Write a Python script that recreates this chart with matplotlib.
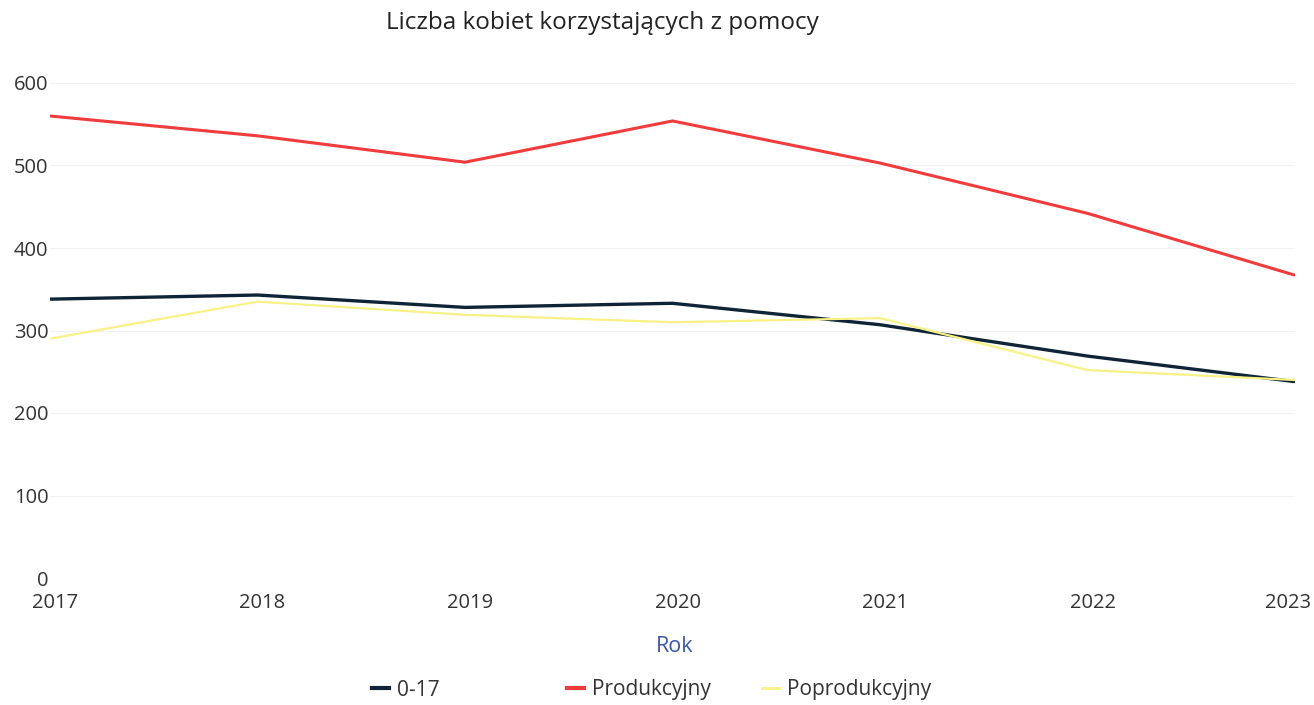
import matplotlib
matplotlib.use("Agg")
import matplotlib.pyplot as plt
from matplotlib.lines import Line2D
from matplotlib.transforms import ScaledTranslation

years = [2017, 2018, 2019, 2020, 2021, 2022, 2023]
series_names = ["0-17", "Produkcyjny", "Poprodukcyjny"]
v_0_17 = [338, 343, 328, 333, 307, 269, 238]
v_prod = [560, 536, 504, 554, 503, 442, 367]
v_poprod = [290, 335, 319, 310, 315, 252, 240]
y_ticks = [0, 100, 200, 300, 400, 500, 600]

colors = ["#0f2436", "#f03c3c", "#f8f186"]
widths = [2.4, 2.2, 1.6]

plt.rcParams['font.family'] = ['Open Sans', 'DejaVu Sans']

fig = plt.figure(figsize=(13.14, 7.05), dpi=100)
ax = fig.add_axes([50/1314, 1-578/705, (1295-50)/1314, (578-83)/705])

for vals, c, w, name in zip([v_0_17, v_prod, v_poprod], colors, widths, series_names):
    ax.plot(years, vals, color=c, lw=w, label=name, solid_capstyle='butt')

ax.set_xlim(years[0], years[-1])
ax.set_ylim(0, 600)
ax.set_yticks(y_ticks)
ax.set_yticklabels([str(t) for t in y_ticks])
ax.set_xticks(years)
ax.set_xticklabels([str(y) for y in years])
for s in ax.spines.values():
    s.set_visible(False)
ax.tick_params(axis='both', length=0, labelsize=14.5, labelcolor='#333333')
ax.tick_params(axis='y', pad=1)
ax.tick_params(axis='x', pad=11)
ax.grid(axis='y', color='#f2f2f2', lw=0.8)
ax.set_axisbelow(True)

xlabels = ax.get_xticklabels()
for i, lab in enumerate(xlabels):
    if i == len(xlabels) - 1:
        lab.set_horizontalalignment('right')
        lab.set_transform(lab.get_transform() + ScaledTranslation(16/100, 0, fig.dpi_scale_trans))
    else:
        lab.set_transform(lab.get_transform() + ScaledTranslation(5/100, 0, fig.dpi_scale_trans))

fig.text(602/1314, 1-23/705, "Liczba kobiet korzystających z pomocy", ha='center', va='center',
         fontsize=17.5, color='#222222')
fig.text(675/1314, 1-646/705, "Rok", ha='center', va='center', fontsize=15.5, color='#3a57a8')

starts = [372, 567, 762]
for name, c, w, x0 in zip(series_names, colors, widths, starts):
    h = Line2D([], [], color=c, lw=3 if c != colors[2] else 2)
    fig.legend(handles=[h], labels=[name], loc='center left', bbox_to_anchor=(x0/1314, 1-690/705),
               frameon=False, borderpad=0, borderaxespad=0, handlelength=0.8, handletextpad=0.4,
               fontsize=15, labelcolor='#333333')

fig.savefig("out.png", dpi=100, facecolor='white')
